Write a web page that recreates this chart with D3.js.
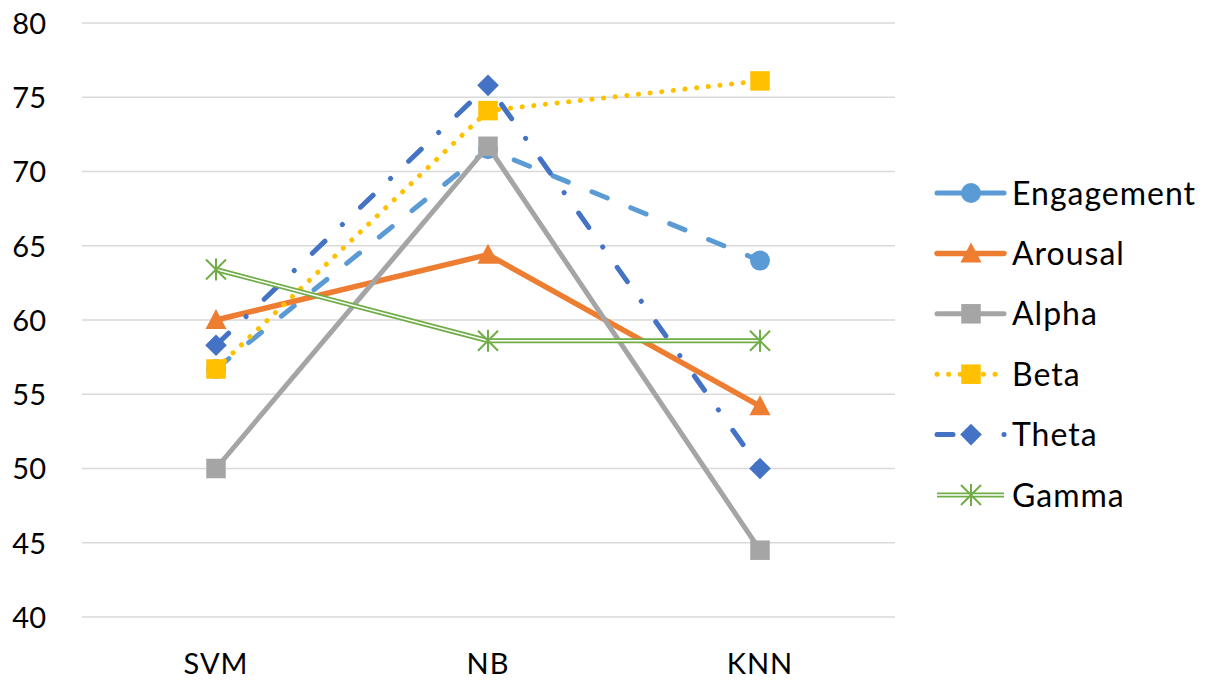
<!DOCTYPE html>
<html><head><meta charset="utf-8">
<script src="https://cdn.jsdelivr.net/npm/d3@7"></script>
<style>body{margin:0;background:#fff;}svg{display:block;font-family:Lato,"Open Sans",sans-serif;}</style>
</head><body>
<svg id="c" width="1209" height="685"></svg>
<script>
const categories = ["SVM","NB","KNN"];
const seriesNames = ["Engagement","Arousal","Alpha","Beta","Theta","Gamma"];
const engagement = [56.7, 71.5, 64.0];
const arousal = [60.0, 64.4, 54.2];
const alpha = [50.0, 71.7, 44.5];
const beta = [56.7, 74.1, 76.1];
const theta = [58.3, 75.8, 50.0];
const gamma = [63.4, 58.6, 58.6];
const yTicks = [40,45,50,55,60,65,70,75,80];

const values = [engagement, arousal, alpha, beta, theta, gamma];
const styles = [
  {color:"#5B9BD5", width:5, dash:"16.5 25.5", legDash:null, legEnd:1004, cap:"round", marker:"circle"},
  {color:"#ED7D31", width:5.5, dash:null, legDash:null, legEnd:1004, cap:"round", marker:"triangle"},
  {color:"#A5A5A5", width:5, dash:null, legDash:null, legEnd:1004, cap:"round", marker:"square"},
  {color:"#FFC000", width:5, dash:"0.1 11.6", legDash:"0.1 11.5", legEnd:1000, cap:"round", marker:"square"},
  {color:"#4472C4", width:5, dash:"17.5 24 0.1 25", legDash:"16 51 0.1 100", legEnd:1008, cap:"round", marker:"diamond"},
  {color:"#70AD47", width:5, dash:null, legDash:null, legEnd:1004, cap:"butt", marker:"star", double:true}
];

const svg = d3.select("#c");
const x = d3.scaleBand().domain(categories).range([80, 896]);
const y = d3.scaleLinear().domain([40, 80]).range([617, 23]);
const cx = d => x(d) + x.bandwidth()/2;

// gridlines
svg.append("g").selectAll("line").data(yTicks).join("line")
  .attr("x1", 82).attr("x2", 895)
  .attr("y1", d => y(d)).attr("y2", d => y(d))
  .attr("stroke", "#D9D9D9").attr("stroke-width", 1.5);

// y axis labels
const yAxis = d3.axisLeft(y).tickValues(yTicks).tickSize(0).tickPadding(0);
const gy = svg.append("g").attr("transform","translate(46,0)").call(yAxis);
gy.select(".domain").remove();
gy.selectAll("text").attr("font-size", 29).attr("fill","#000").attr("font-family","Lato,'Open Sans',sans-serif").attr("dy","0.36em");

// x axis labels
const xAxis = d3.axisBottom(x).tickSize(0).tickPadding(0);
const gx = svg.append("g").attr("transform","translate(0,674)").call(xAxis);
gx.select(".domain").remove();
gx.selectAll("text").attr("font-size", 29).attr("fill","#000").attr("font-family","Lato,'Open Sans',sans-serif").attr("dy","0").attr("y",0).attr("letter-spacing","1px");

function drawMarker(g, type, color, px, py) {
  if (type === "circle") {
    g.append("circle").attr("cx",px).attr("cy",py).attr("r",10).attr("fill",color);
  } else if (type === "triangle") {
    g.append("path").attr("d",`M${px},${py-11}L${px+10.5},${py+9}L${px-10.5},${py+9}Z`).attr("fill",color);
  } else if (type === "square") {
    const s = 19.5;
    g.append("rect").attr("x",px-s/2).attr("y",py-s/2).attr("width",s).attr("height",s).attr("fill",color);
  } else if (type === "diamond") {
    const s = 10.8;
    g.append("path").attr("d",`M${px},${py-s}L${px+s},${py}L${px},${py+s}L${px-s},${py}Z`).attr("fill",color);
  } else if (type === "star") {
    const s = 10;
    const p = `M${px-s},${py-s}L${px+s},${py+s}M${px-s},${py+s}L${px+s},${py-s}M${px},${py-s*1.1}L${px},${py+s*1.1}`;
    g.append("path").attr("d",p).attr("stroke",color).attr("stroke-width",2).attr("fill","none");
  }
}

const line = d3.line().x((d,i) => cx(categories[i])).y(d => y(d));

values.forEach((vals, si) => {
  const st = styles[si];
  const g = svg.append("g");
  g.append("path").attr("d", line(vals)).attr("fill","none")
    .attr("stroke", st.color).attr("stroke-width", st.width)
    .attr("stroke-linecap", st.cap).attr("stroke-linejoin","round")
    .attr("stroke-dasharray", st.dash);
  if (st.double) {
    g.append("path").attr("d", line(vals)).attr("fill","none")
      .attr("stroke", "#fff").attr("stroke-width", 1.6);
  }
  vals.forEach((v,i) => drawMarker(g, st.marker, st.color, cx(categories[i]), y(v)));
});

// legend
const leg = svg.append("g");
seriesNames.forEach((name, si) => {
  const st = styles[si];
  const ly = 193 + si*60.4;
  const g = leg.append("g");
  g.append("line").attr("x1",937).attr("x2",st.legEnd).attr("y1",ly).attr("y2",ly)
    .attr("stroke",st.color).attr("stroke-width",st.width)
    .attr("stroke-linecap", st.cap).attr("stroke-dasharray", st.legDash);
  if (st.double) g.append("line").attr("x1",937).attr("x2",st.legEnd).attr("y1",ly).attr("y2",ly).attr("stroke","#fff").attr("stroke-width",1.6);
  drawMarker(g, st.marker, st.color, 971, ly);
  g.append("text").attr("x",1012).attr("y",ly).attr("dy","0.36em")
    .attr("font-size",32).attr("letter-spacing","1px").attr("fill","#000").text(name);
});
</script>
</body></html>
